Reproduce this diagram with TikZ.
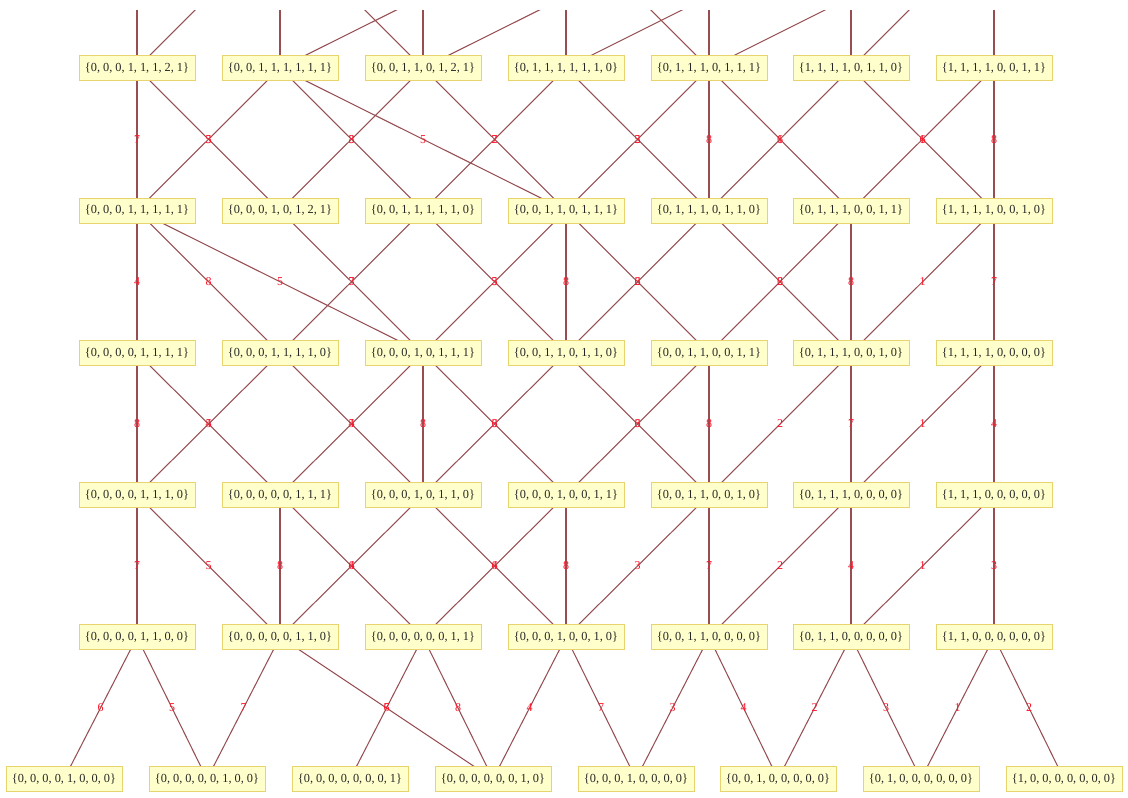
\documentclass[tikz,border=0pt]{standalone}
\usepackage{fontspec}
\setmainfont{Liberation Serif}
\usetikzlibrary{backgrounds}
\definecolor{edgec}{RGB}{150,78,82}
\definecolor{boxfill}{RGB}{255,255,204}
\definecolor{boxdraw}{RGB}{232,212,110}
\definecolor{labc}{RGB}{255,20,40}
\tikzset{
  vbox/.style={draw=boxdraw, fill=boxfill, line width=1pt, minimum width=116pt,
    minimum height=25pt, inner sep=1pt, font=\fontsize{12.3}{13}\selectfont, text=black!85},
  edgeline/.style={draw=edgec, line width=1.05pt},
  elab/.style={text=labc, font=\fontsize{12}{12}\selectfont, inner sep=0pt}
}
\newcommand\myedge[3]{\draw[edgeline] (#1.center) -- node[elab]{#3} (#2.center);}
\newcommand\topedge[2]{\draw[edgeline] (#1.center) -- (#2);}
\begin{document}
\begin{tikzpicture}[x=1pt,y=-1pt]
\useasboundingbox (0,0) rectangle (1128,798);
% hidden row above
\coordinate (T1) at (137,-74.5);
\coordinate (T2) at (280,-74.5);
\coordinate (T3) at (423,-74.5);
\coordinate (T4) at (566,-74.5);
\coordinate (T5) at (709,-74.5);
\coordinate (T6) at (851,-74.5);
\coordinate (T7) at (994,-74.5);
% row 1
\node[vbox] (A1) at (137,68) {\{0, 0, 0, 1, 1, 1, 2, 1\}};
\node[vbox] (A2) at (280,68) {\{0, 0, 1, 1, 1, 1, 1, 1\}};
\node[vbox] (A3) at (423,68) {\{0, 0, 1, 1, 0, 1, 2, 1\}};
\node[vbox] (A4) at (566,68) {\{0, 1, 1, 1, 1, 1, 1, 0\}};
\node[vbox] (A5) at (709,68) {\{0, 1, 1, 1, 0, 1, 1, 1\}};
\node[vbox] (A6) at (851,68) {\{1, 1, 1, 1, 0, 1, 1, 0\}};
\node[vbox] (A7) at (994,68) {\{1, 1, 1, 1, 0, 0, 1, 1\}};
% row 2
\node[vbox] (B1) at (137,210.5) {\{0, 0, 0, 1, 1, 1, 1, 1\}};
\node[vbox] (B2) at (280,210.5) {\{0, 0, 0, 1, 0, 1, 2, 1\}};
\node[vbox] (B3) at (423,210.5) {\{0, 0, 1, 1, 1, 1, 1, 0\}};
\node[vbox] (B4) at (566,210.5) {\{0, 0, 1, 1, 0, 1, 1, 1\}};
\node[vbox] (B5) at (709,210.5) {\{0, 1, 1, 1, 0, 1, 1, 0\}};
\node[vbox] (B6) at (851,210.5) {\{0, 1, 1, 1, 0, 0, 1, 1\}};
\node[vbox] (B7) at (994,210.5) {\{1, 1, 1, 1, 0, 0, 1, 0\}};
% row 3
\node[vbox] (C1) at (137,353) {\{0, 0, 0, 0, 1, 1, 1, 1\}};
\node[vbox] (C2) at (280,353) {\{0, 0, 0, 1, 1, 1, 1, 0\}};
\node[vbox] (C3) at (423,353) {\{0, 0, 0, 1, 0, 1, 1, 1\}};
\node[vbox] (C4) at (566,353) {\{0, 0, 1, 1, 0, 1, 1, 0\}};
\node[vbox] (C5) at (709,353) {\{0, 0, 1, 1, 0, 0, 1, 1\}};
\node[vbox] (C6) at (851,353) {\{0, 1, 1, 1, 0, 0, 1, 0\}};
\node[vbox] (C7) at (994,353) {\{1, 1, 1, 1, 0, 0, 0, 0\}};
% row 4
\node[vbox] (D1) at (137,495) {\{0, 0, 0, 0, 1, 1, 1, 0\}};
\node[vbox] (D2) at (280,495) {\{0, 0, 0, 0, 0, 1, 1, 1\}};
\node[vbox] (D3) at (423,495) {\{0, 0, 0, 1, 0, 1, 1, 0\}};
\node[vbox] (D4) at (566,495) {\{0, 0, 0, 1, 0, 0, 1, 1\}};
\node[vbox] (D5) at (709,495) {\{0, 0, 1, 1, 0, 0, 1, 0\}};
\node[vbox] (D6) at (851,495) {\{0, 1, 1, 1, 0, 0, 0, 0\}};
\node[vbox] (D7) at (994,495) {\{1, 1, 1, 0, 0, 0, 0, 0\}};
% row 5
\node[vbox] (E1) at (137,637) {\{0, 0, 0, 0, 1, 1, 0, 0\}};
\node[vbox] (E2) at (280,637) {\{0, 0, 0, 0, 0, 1, 1, 0\}};
\node[vbox] (E3) at (423,637) {\{0, 0, 0, 0, 0, 0, 1, 1\}};
\node[vbox] (E4) at (566,637) {\{0, 0, 0, 1, 0, 0, 1, 0\}};
\node[vbox] (E5) at (709,637) {\{0, 0, 1, 1, 0, 0, 0, 0\}};
\node[vbox] (E6) at (851,637) {\{0, 1, 1, 0, 0, 0, 0, 0\}};
\node[vbox] (E7) at (994,637) {\{1, 1, 0, 0, 0, 0, 0, 0\}};
% row 6
\node[vbox] (F1) at (64,779) {\{0, 0, 0, 0, 1, 0, 0, 0\}};
\node[vbox] (F2) at (207,779) {\{0, 0, 0, 0, 0, 1, 0, 0\}};
\node[vbox] (F3) at (350,779) {\{0, 0, 0, 0, 0, 0, 0, 1\}};
\node[vbox] (F4) at (493,779) {\{0, 0, 0, 0, 0, 0, 1, 0\}};
\node[vbox] (F5) at (636,779) {\{0, 0, 0, 1, 0, 0, 0, 0\}};
\node[vbox] (F6) at (778,779) {\{0, 0, 1, 0, 0, 0, 0, 0\}};
\node[vbox] (F7) at (921,779) {\{0, 1, 0, 0, 0, 0, 0, 0\}};
\node[vbox] (F8) at (1064,779) {\{1, 0, 0, 0, 0, 0, 0, 0\}};
\begin{pgfonlayer}{background}
\begin{scope}
\clip (0,10) rectangle (1128,798);
\topedge{A1}{T1} \topedge{A1}{T2}
\topedge{A2}{T2} \topedge{A2}{T4}
\topedge{A3}{T2} \topedge{A3}{T3} \topedge{A3}{T5}
\topedge{A4}{T4} \topedge{A4}{T6}
\topedge{A5}{T4} \topedge{A5}{T5} \topedge{A5}{T7}
\topedge{A6}{T6} \topedge{A6}{T7}
\topedge{A7}{T7}
\end{scope}
% row 1 -> row 2
\myedge{A1}{B1}{7} \myedge{A1}{B2}{5}
\myedge{A2}{B1}{3} \myedge{A2}{B3}{8} \myedge{A2}{B4}{5}
\myedge{A3}{B2}{3} \myedge{A3}{B4}{7}
\myedge{A4}{B3}{2} \myedge{A4}{B5}{5}
\myedge{A5}{B4}{2} \myedge{A5}{B5}{8} \myedge{A5}{B6}{6}
\myedge{A6}{B5}{1} \myedge{A6}{B7}{6}
\myedge{A7}{B6}{1} \myedge{A7}{B7}{8}
% row 2 -> row 3
\myedge{B1}{C1}{4} \myedge{B1}{C2}{8} \myedge{B1}{C3}{5}
\myedge{B2}{C3}{7}
\myedge{B3}{C2}{3} \myedge{B3}{C4}{5}
\myedge{B4}{C3}{3} \myedge{B4}{C4}{8} \myedge{B4}{C5}{6}
\myedge{B5}{C4}{2} \myedge{B5}{C6}{6}
\myedge{B6}{C5}{2} \myedge{B6}{C6}{8}
\myedge{B7}{C6}{1} \myedge{B7}{C7}{7}
% row 3 -> row 4
\myedge{C1}{D1}{8} \myedge{C1}{D2}{5}
\myedge{C2}{D1}{4} \myedge{C2}{D3}{5}
\myedge{C3}{D2}{4} \myedge{C3}{D3}{8} \myedge{C3}{D4}{6}
\myedge{C4}{D3}{3} \myedge{C4}{D5}{6}
\myedge{C5}{D4}{3} \myedge{C5}{D5}{8}
\myedge{C6}{D5}{2} \myedge{C6}{D6}{7}
\myedge{C7}{D6}{1} \myedge{C7}{D7}{4}
% row 4 -> row 5
\myedge{D1}{E1}{7} \myedge{D1}{E2}{5}
\myedge{D2}{E2}{8} \myedge{D2}{E3}{6}
\myedge{D3}{E2}{4} \myedge{D3}{E4}{6}
\myedge{D4}{E3}{4} \myedge{D4}{E4}{8}
\myedge{D5}{E4}{3} \myedge{D5}{E5}{7}
\myedge{D6}{E5}{2} \myedge{D6}{E6}{4}
\myedge{D7}{E6}{1} \myedge{D7}{E7}{3}
% row 5 -> row 6
\myedge{E1}{F1}{6} \myedge{E1}{F2}{5}
\myedge{E2}{F2}{7} \myedge{E2}{F4}{6}
\myedge{E3}{F3}{7} \myedge{E3}{F4}{8}
\myedge{E4}{F4}{4} \myedge{E4}{F5}{7}
\myedge{E5}{F5}{3} \myedge{E5}{F6}{4}
\myedge{E6}{F6}{2} \myedge{E6}{F7}{3}
\myedge{E7}{F7}{1} \myedge{E7}{F8}{2}
\end{pgfonlayer}
\end{tikzpicture}
\end{document}
